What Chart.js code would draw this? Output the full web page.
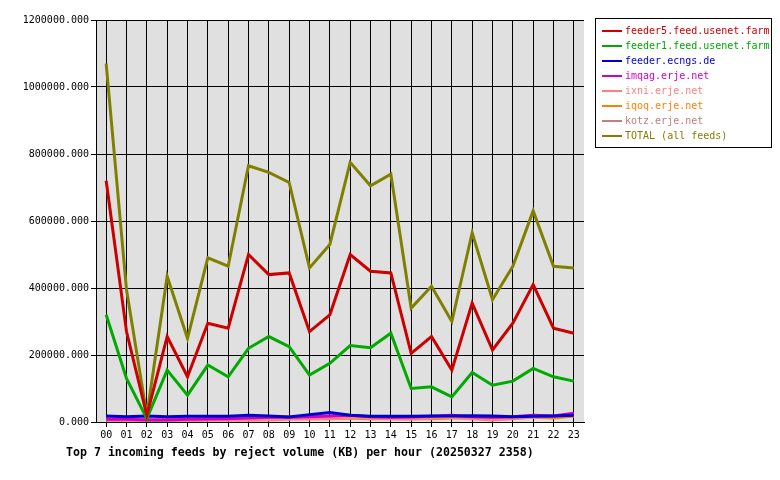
<!DOCTYPE html>
<html>
<head>
<meta charset="utf-8">
<script src="https://cdn.jsdelivr.net/npm/chart.js@4"></script>
<style>
  body { margin: 0; background: #fff; }
  #wrap { position: relative; width: 780px; height: 480px; }
  #legend { position: absolute; left: 595px; top: 18px; width: 177px; height: 130px; border: 1px solid #000;
            font: 10px "DejaVu Sans Mono", monospace; box-sizing: border-box; padding: 4px 0 0 6px; }
  #legend div { height: 15px; line-height: 15px; white-space: nowrap; }
  #legend span.sw { display: inline-block; width: 20px; height: 2px; vertical-align: middle; margin-right: 3px; }
  #title { position: absolute; left: 66px; top: 445px; font: bold 11.6px "DejaVu Sans Mono", monospace; }
</style>
</head>
<body>
<div id="wrap">
  <canvas id="c" width="780" height="480"></canvas>
  <div id="legend"></div>
  <div id="title">Top 7 incoming feeds by reject volume (KB) per hour (20250327 2358)</div>
</div>
<script>
// === データ ===
const hours = ['00','01','02','03','04','05','06','07','08','09','10','11','12','13','14','15','16','17','18','19','20','21','22','23'];
const feeder5 = [720000, 270000, 20000, 255000, 135000, 295000, 280000, 500000, 440000, 445000, 270000, 320000, 500000, 450000, 445000, 205000, 255000, 155000, 355000, 215000, 295000, 410000, 280000, 265000];
const feeder1 = [320000, 130000, 10000, 155000, 80000, 170000, 135000, 220000, 255000, 225000, 140000, 175000, 228000, 222000, 265000, 100000, 105000, 75000, 148000, 110000, 122000, 160000, 135000, 122000];
const ecngs = [18000, 16000, 18000, 16000, 17000, 17000, 17000, 20000, 18000, 15000, 22000, 28000, 20000, 17000, 17000, 17000, 18000, 18000, 19000, 18000, 16000, 17000, 18000, 20000];
const imqag = [8000, 8000, 6000, 6000, 8000, 9000, 10000, 12000, 14000, 14000, 16000, 18000, 20000, 16000, 14000, 15000, 17000, 20000, 16000, 14000, 16000, 20000, 18000, 26000];
const ixni = [5000, 4000, 3000, 4000, 4000, 5000, 6000, 5000, 6000, 8000, 9000, 10000, 14000, 12000, 10000, 9000, 12000, 14000, 10000, 6000, 10000, 14000, 16000, 24000];
const iqoq = [6000, 6000, 5000, 6000, 7000, 8000, 10000, 12000, 12000, 16000, 12000, 10000, 12000, 10000, 10000, 10000, 10000, 12000, 12000, 10000, 12000, 14000, 12000, 18000];
const kotz = [10000, 10000, 8000, 8000, 8000, 10000, 12000, 12000, 12000, 12000, 12000, 14000, 14000, 14000, 14000, 14000, 14000, 16000, 14000, 14000, 14000, 16000, 16000, 18000];
const total = [1070000, 395000, 20000, 435000, 250000, 490000, 465000, 765000, 745000, 715000, 460000, 530000, 775000, 705000, 740000, 340000, 405000, 300000, 565000, 365000, 465000, 630000, 465000, 460000];

const series = [
  { label: 'feeder5.feed.usenet.farm', data: feeder5, color: '#cc0000' },
  { label: 'feeder1.feed.usenet.farm', data: feeder1, color: '#00aa00' },
  { label: 'feeder.ecngs.de', data: ecngs, color: '#0000cc' },
  { label: 'imqag.erje.net', data: imqag, color: '#cc00cc' },
  { label: 'ixni.erje.net', data: ixni, color: '#ff8080' },
  { label: 'iqoq.erje.net', data: iqoq, color: '#ff8000' },
  { label: 'kotz.erje.net', data: kotz, color: '#c08080' },
  { label: 'TOTAL (all feeds)', data: total, color: '#808000' },
];

// === 凡例 ===
const legend = document.getElementById('legend');
series.forEach(s => {
  const d = document.createElement('div');
  d.style.color = s.color;
  d.innerHTML = `<span class="sw" style="background:${s.color}"></span>${s.label}`;
  legend.appendChild(d);
});

// === 背景 ===
const bgPlugin = {
  id: 'bg',
  beforeDraw(chart) {
    const a = chart.chartArea, ctx = chart.ctx;
    ctx.save();
    ctx.fillStyle = '#e0e0e0';
    ctx.fillRect(a.left, a.top, a.right - a.left, a.bottom - a.top);
    ctx.restore();
  }
};

Chart.defaults.font.family = "'DejaVu Sans Mono', monospace";
Chart.defaults.font.size = 10;
Chart.defaults.color = '#000';

new Chart(document.getElementById('c'), {
  type: 'line',
  data: {
    labels: hours,
    datasets: series.map(s => ({
      label: s.label, data: s.data, borderColor: s.color,
      borderWidth: 3, pointRadius: 0, tension: 0, fill: false,
    })),
  },
  options: {
    responsive: false,
    animation: false,
    layout: { padding: { top: 20, right: 196, left: 0, bottom: 0 } },
    plugins: { legend: { display: false }, tooltip: { enabled: false } },
    scales: {
      x: {
        offset: true,
        grid: { offset: false, color: '#000', lineWidth: 1, tickLength: 5 },
        border: { color: '#000' },
        ticks: { autoSkip: false, maxRotation: 0, padding: 2 },
        afterFit: s => { s.height = 58; },
      },
      y: {
        min: 0, max: 1200000,
        grid: { color: '#000', lineWidth: 1, tickLength: 5 },
        border: { color: '#000' },
        ticks: { stepSize: 200000, callback: v => v.toFixed(3), padding: 2 },
        afterFit: s => { s.width = 96; },
      },
    },
  },
  plugins: [bgPlugin],
});
</script>
</body>
</html>
